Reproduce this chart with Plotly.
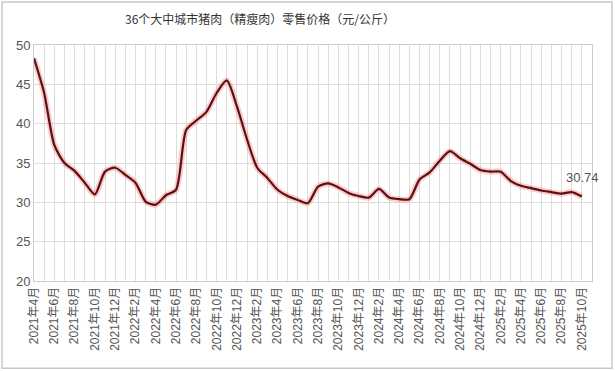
import plotly.graph_objects as go

months = [
    "2021年4月", "2021年5月", "2021年6月", "2021年7月", "2021年8月", "2021年9月",
    "2021年10月", "2021年11月", "2021年12月",
    "2022年1月", "2022年2月", "2022年3月", "2022年4月", "2022年5月", "2022年6月",
    "2022年7月", "2022年8月", "2022年9月", "2022年10月", "2022年11月", "2022年12月",
    "2023年1月", "2023年2月", "2023年3月", "2023年4月", "2023年5月", "2023年6月",
    "2023年7月", "2023年8月", "2023年9月", "2023年10月", "2023年11月", "2023年12月",
    "2024年1月", "2024年2月", "2024年3月", "2024年4月", "2024年5月", "2024年6月",
    "2024年7月", "2024年8月", "2024年9月", "2024年10月", "2024年11月", "2024年12月",
    "2025年1月", "2025年2月", "2025年3月", "2025年4月", "2025年5月", "2025年6月",
    "2025年7月", "2025年8月", "2025年9月", "2025年10月",
]

prices = [
    48.3, 43.9, 37.3, 35.0, 34.0, 32.5, 31.0, 33.9, 34.4,
    33.5, 32.5, 30.1, 29.7, 30.9, 31.6, 39.2, 40.4, 41.5, 43.9, 45.5, 42.2,
    38.0, 34.4, 33.1, 31.6, 30.8, 30.3, 29.9, 32.0, 32.4, 31.9, 31.2, 30.8,
    30.6, 31.7, 30.6, 30.4, 30.4, 32.9, 33.8, 35.3, 36.5, 35.6, 34.9, 34.1,
    33.9, 33.9, 32.7, 32.1, 31.8, 31.5, 31.3, 31.1, 31.3, 30.74,
]

title_text = "36个大中城市猪肉（精瘦肉）零售价格（元/公斤）"

x_idx = list(range(len(months)))
tick_text = [m if i % 2 == 0 else "" for i, m in enumerate(months)]

fig = go.Figure()
# soft glow under the line
fig.add_trace(go.Scatter(
    x=x_idx, y=prices, mode="lines",
    line=dict(color="rgba(240,110,110,0.35)", width=6, shape="spline", smoothing=0.7),
    hoverinfo="skip", showlegend=False,
))
fig.add_trace(go.Scatter(
    x=x_idx, y=prices, mode="lines",
    line=dict(color="#5e0f14", width=2.2, shape="spline", smoothing=0.7),
    showlegend=False,
))

fig.add_annotation(
    x=x_idx[-1], y=prices[-1], text=f"{prices[-1]:.2f}",
    showarrow=False, xref="x", yref="y", yshift=19, xshift=1,
    font=dict(family="Liberation Sans, Arial, sans-serif", size=13, color="#555555"),
)

# outer frame
fig.add_shape(type="rect", xref="paper", yref="paper",
              x0=-0.0573, x1=1.0358, y0=-0.370, y1=1.182,
              line=dict(color="#c8c8c8", width=1.5), fillcolor="rgba(0,0,0,0)", layer="below")

fig.update_layout(
    width=615, height=371,
    margin=dict(l=34, r=23, t=45, b=90),
    paper_bgcolor="white", plot_bgcolor="white",
    title=dict(text=title_text, x=260/615, xanchor="center", xref="container",
               y=1 - 20/371, yanchor="middle", yref="container",
               font=dict(family="Noto Sans CJK SC, sans-serif", size=12, color="#333333")),
    font=dict(family="Liberation Sans, Noto Sans CJK SC, sans-serif", color="#555555"),
)

fig.update_xaxes(
    range=[0, 55], tickmode="array", tickvals=x_idx, ticktext=tick_text,
    tickangle=-90, tickfont=dict(size=12, color="#555555"),
    showgrid=True, gridcolor="#dddddd", gridwidth=1,
    showline=True, linecolor="#cccccc", mirror=True, ticks="", zeroline=False,
)
fig.update_yaxes(
    range=[20, 50], dtick=5, tick0=20,
    tickfont=dict(size=13, color="#555555"),
    showgrid=True, gridcolor="#dddddd", gridwidth=1,
    showline=True, linecolor="#cccccc", mirror=True, ticks="", zeroline=False,
)

fig.write_html("out.html", config={"displayModeBar": False},
               post_script="document.body.style.margin='0';")
